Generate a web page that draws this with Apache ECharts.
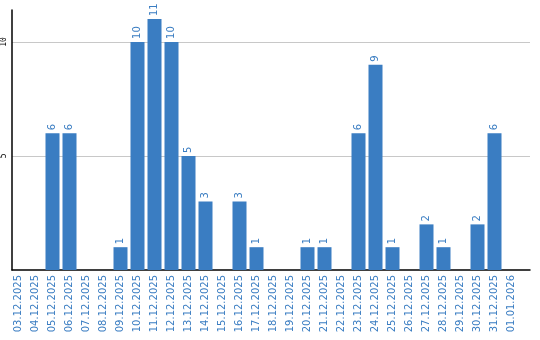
<!DOCTYPE html>
<html><head><meta charset="utf-8">
<script src="https://cdn.jsdelivr.net/npm/echarts@6/dist/echarts.min.js"></script>
<style>html,body{margin:0;padding:0;background:#fff}#c{width:540px;height:340px}</style>
</head><body><div id="c"></div>
<script>
const categories = ['03.12.2025','04.12.2025','05.12.2025','06.12.2025','07.12.2025','08.12.2025','09.12.2025','10.12.2025','11.12.2025','12.12.2025','13.12.2025','14.12.2025','15.12.2025','16.12.2025','17.12.2025','18.12.2025','19.12.2025','20.12.2025','21.12.2025','22.12.2025','23.12.2025','24.12.2025','25.12.2025','26.12.2025','27.12.2025','28.12.2025','29.12.2025','30.12.2025','31.12.2025','01.01.2026'];
const values = [0,0,6,6,0,0,1,10,11,10,5,3,0,3,1,0,0,1,1,0,6,9,1,0,2,1,0,2,6,0];
const yTicks = [5,10];
const blue = '#3a7dc2';
const chart = echarts.init(document.getElementById('c'));
chart.setOption({
  animation:false,
  grid:[
    {left:10,right:10,top:10,bottom:70},
    {left:10,width:510,top:10,bottom:70}
  ],
  xAxis:[
    {gridIndex:0,type:'value',min:0,max:1,axisLine:{show:true,onZero:false,lineStyle:{color:'#000',width:1.5}},axisTick:{show:false},axisLabel:{show:false},splitLine:{show:false}},
    {gridIndex:1,type:'category',data:categories,axisLine:{show:false},axisTick:{show:false},
     axisLabel:{rotate:90,interval:0,color:blue,fontFamily:'DejaVu Sans',fontSize:10,margin:5}}
  ],
  yAxis:[
    {gridIndex:0,type:'value',min:0,max:11.4,interval:5,
     axisLine:{show:true,lineStyle:{color:'#000',width:1.5}},axisTick:{show:false},
     splitLine:{show:true,showMaxLine:false,showMinLine:false,lineStyle:{color:'#c8c8c8',width:1}},
     axisLabel:{rotate:90,margin:4,color:'#000',fontFamily:'DejaVu Sans Mono',fontSize:8,
       showMaxLabel:false,formatter:v=>yTicks.includes(v)?String(v):''}},
    {gridIndex:1,type:'value',min:0,max:11.4,show:false}
  ],
  series:[{
    type:'bar',xAxisIndex:1,yAxisIndex:1,data:values,barWidth:14,
    itemStyle:{color:blue},
    label:{show:true,position:'top',rotate:90,align:'left',verticalAlign:'middle',distance:3,
      color:blue,fontFamily:'DejaVu Sans',fontSize:10,
      formatter:p=>p.value?String(p.value):''}
  }]
});
</script></body></html>
